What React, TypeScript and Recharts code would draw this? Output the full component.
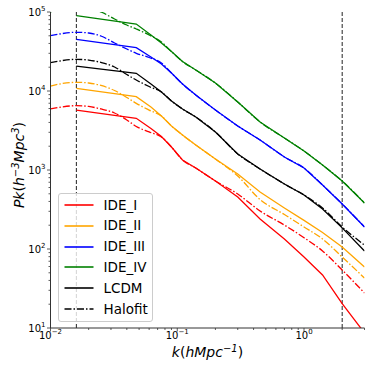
import React from "react";
import { LineChart, Line, XAxis, YAxis, ReferenceLine } from "recharts";

// k grid of the simulation spectra (solid) and of the halofit curves (dash-dot)
const K_SIM = [0.016, 0.0475, 0.062, 0.075, 0.09, 0.11, 0.14, 0.2, 0.3, 0.45, 0.7, 1.0, 1.4, 2.0, 3.0];
const K_HALO = [
  0.01, 0.0125, 0.016, 0.02, 0.025, 0.032, 0.04, 0.0475, 0.06, 0.075, 0.09, 0.11, 0.14, 0.2, 0.3, 0.45,
  0.7, 1.0, 1.4, 2.0, 3.0,
];

const IDE_I = [5740, 4510, 3350, 2655, 1954, 1340, 1059, 726, 455, 240, 134, 79.2, 46.9, 20.4, 8.65];
const IDE_II = [10820, 8470, 6270, 4830, 3606, 2773, 2070, 1377, 889, 527, 330, 230, 162, 106, 59.2];
const IDE_III = [45080, 35320, 26920, 21980, 16900, 12270, 8890, 5740, 3606, 2399, 1462, 1059, 646, 372, 190];
const IDE_IV = [89750, 70470, 51170, 40550, 31550, 23610, 18450, 12620, 7260, 4055, 2540, 1742, 1156, 726, 382];
const LCDM = [20700, 16750, 12270, 9710, 7470, 5920, 4690, 3030, 1595, 1030, 665, 483, 321, 185, 94.4];

const IDE_I_HALO = [
  5920, 6310, 6520, 6370, 5920, 5270, 4300, 3556, 3030, 2618, 1954, 1340, 1059, 726, 497, 303, 201, 139, 94.4,
  54.2, 27.7,
];
const IDE_II_HALO = [
  11560, 12450, 12880, 12620, 11750, 10140, 8280, 6980, 5740, 4830, 3606, 2773, 2070, 1377, 839, 423, 273, 190,
  134, 79.2, 42.9,
];
const IDE_III_HALO = [
  50120, 53460, 55340, 54200, 49700, 40550, 34040, 29990, 26550, 22600, 16900, 12270, 8890, 5740, 3606, 2399,
  1462, 1059, 646, 372, 190,
];
const IDE_IV_HALO = [
  100880, 107540, 111380, 109140, 100000, 81540, 68450, 60930, 51170, 41730, 31550, 23610, 18450, 12620, 7260,
  4055, 2540, 1742, 1156, 726, 382,
];
const LCDM_HALO = [
  22800, 24320, 25180, 24660, 22960, 20140, 16180, 13770, 11400, 9710, 7470, 5920, 4690, 3030, 1595, 1030, 665,
  483, 330, 190, 112,
];

const X_TICKS = [
  0.01, 0.02, 0.03, 0.04, 0.05, 0.06, 0.07, 0.08, 0.09, 0.1, 0.2, 0.3, 0.4, 0.5, 0.6, 0.7, 0.8, 0.9, 1, 2, 3,
];
const Y_TICKS = [
  10, 20, 30, 40, 50, 60, 70, 80, 90, 100, 200, 300, 400, 500, 600, 700, 800, 900, 1000, 2000, 3000, 4000, 5000,
  6000, 7000, 8000, 9000, 10000, 20000, 30000, 40000, 50000, 60000, 70000, 80000, 90000, 100000,
];
const K_CUTS = [0.016, 2.0];

const FONT = "'DejaVu Sans', sans-serif";
const AXIS = "#333";
const DASHDOT = "7 2 1.5 2";

const SERIES = [
  { name: "IDE_I", color: "#ff0000", sim: IDE_I, halo: IDE_I_HALO },
  { name: "IDE_II", color: "#ffa500", sim: IDE_II, halo: IDE_II_HALO },
  { name: "IDE_III", color: "#0000ff", sim: IDE_III, halo: IDE_III_HALO },
  { name: "IDE_IV", color: "#008000", sim: IDE_IV, halo: IDE_IV_HALO },
  { name: "LCDM", color: "#000000", sim: LCDM, halo: LCDM_HALO },
];

const toRows = (ks: number[], ps: number[]) => ks.map((k, i) => ({ k, p: ps[i] }));

const isMajor = (v: number) => Math.abs(Math.log10(v) - Math.round(Math.log10(v))) < 1e-9;
const expText = (v: number) => {
  const e = Math.round(Math.log10(v));
  return e < 0 ? `\u2212${-e}` : `${e}`;
};

function XTick(props: any) {
  const { x, y, payload } = props;
  const major = isMajor(payload.value);
  return (
    <g>
      <line x1={x} x2={x} y1={y} y2={y + (major ? 3.5 : 2)} stroke={AXIS} strokeWidth={0.8} />
      {major && (
        <text x={x} y={y + 10.5} textAnchor="middle" fontSize={10} fontFamily={FONT} fill="#000">
          10
          <tspan dy={-4.5} fontSize={7}>
            {expText(payload.value)}
          </tspan>
        </text>
      )}
    </g>
  );
}

function YTick(props: any) {
  const { x, y, payload } = props;
  const major = isMajor(payload.value);
  return (
    <g>
      <line x1={x} x2={x - (major ? 3.5 : 2)} y1={y} y2={y} stroke={AXIS} strokeWidth={0.8} />
      {major && (
        <text x={x - 5} y={y + 3.6} textAnchor="end" fontSize={10} fontFamily={FONT} fill="#000">
          10
          <tspan dy={-4.5} fontSize={7}>
            {expText(payload.value)}
          </tspan>
        </text>
      )}
    </g>
  );
}

const XLabel = () => (
  <text x={207.5} y={357} textAnchor="middle" fontSize={14} fontFamily={FONT} fontStyle="italic" fill="#000">
    k<tspan fontStyle="normal">(</tspan>hMpc
    <tspan dy={-5.5} fontSize={10}>
      {"\u22121"}
    </tspan>
    <tspan dy={5.5} fontStyle="normal">
      )
    </tspan>
  </text>
);

const YLabel = () => (
  <text
    x={0}
    y={0}
    transform="translate(24,165) rotate(-90)"
    textAnchor="middle"
    fontSize={14}
    fontFamily={FONT}
    fontStyle="italic"
    fill="#000"
  >
    Pk<tspan fontStyle="normal">(</tspan>h
    <tspan dy={-5.5} fontSize={10}>
      {"\u22123"}
    </tspan>
    <tspan dy={5.5}>Mpc</tspan>
    <tspan dy={-5.5} fontSize={10}>
      3
    </tspan>
    <tspan dy={5.5} fontStyle="normal">
      )
    </tspan>
  </text>
);

function LegendBox() {
  const items = [
    ...SERIES.map((s) => ({ name: s.name, color: s.color, dash: undefined as string | undefined })),
    { name: "Halofit", color: "#000000", dash: DASHDOT },
  ];
  return (
    <div
      style={{
        position: "absolute",
        left: 58,
        top: 193,
        width: 95,
        height: 129,
        boxSizing: "border-box",
        border: "1px solid #cccccc",
        borderRadius: 3,
        background: "rgba(255,255,255,0.8)",
        fontFamily: FONT,
        fontSize: 13.5,
        color: "#000",
      }}
    >
      {items.map((it, i) => (
        <div key={it.name} style={{ position: "absolute", left: 0, top: 1 + i * 20.8, height: 20, width: 95 }}>
          <svg width={30} height={20} style={{ position: "absolute", left: 4.5, top: 0 }}>
            <line x1={0.5} x2={29.5} y1={10} y2={10} stroke={it.color} strokeWidth={1.6} strokeDasharray={it.dash} />
          </svg>
          <span style={{ position: "absolute", left: 44.5, top: 1.5, lineHeight: "16px", whiteSpace: "nowrap" }}>
            {it.name}
          </span>
        </div>
      ))}
    </div>
  );
}

export default function App() {
  return (
    <div style={{ position: "fixed", left: 0, top: 0, width: 374, height: 374, background: "#fff" }}>
      <LineChart width={374} height={374} margin={{ top: 12, right: 9.5, bottom: 0, left: 0 }}>
        <XAxis
          xAxisId="b"
          dataKey="k"
          type="number"
          scale="log"
          domain={[0.01, 3]}
          allowDataOverflow
          ticks={X_TICKS}
          interval={0}
          tick={<XTick />}
          tickLine={false}
          tickSize={0}
          tickMargin={0}
          height={46}
          stroke={AXIS}
          label={{ content: XLabel }}
        />
        <XAxis
          xAxisId="t"
          orientation="top"
          dataKey="k"
          type="number"
          scale="log"
          domain={[0.01, 3]}
          allowDataOverflow
          tick={false}
          tickLine={false}
          height={0}
          stroke={AXIS}
        />
        <YAxis
          yAxisId="l"
          type="number"
          scale="log"
          domain={[10, 100000]}
          allowDataOverflow
          ticks={Y_TICKS}
          interval={0}
          tick={<YTick />}
          tickLine={false}
          tickSize={0}
          tickMargin={0}
          width={50.5}
          stroke={AXIS}
          label={{ content: YLabel }}
        />
        <YAxis
          yAxisId="r"
          orientation="right"
          type="number"
          scale="log"
          domain={[10, 100000]}
          allowDataOverflow
          tick={false}
          tickLine={false}
          width={0}
          stroke={AXIS}
        />
        {K_CUTS.map((k) => (
          <ReferenceLine
            key={k}
            x={k}
            xAxisId="b"
            yAxisId="l"
            stroke="#222"
            strokeWidth={1}
            strokeDasharray="4 2"
          />
        ))}
        {SERIES.map((s) => (
          <Line
            key={s.name}
            xAxisId="b"
            yAxisId="l"
            data={toRows(K_SIM, s.sim)}
            dataKey="p"
            type="linear"
            stroke={s.color}
            strokeWidth={1.3}
            dot={false}
            activeDot={false}
            isAnimationActive={false}
          />
        ))}
        {SERIES.map((s) => (
          <Line
            key={s.name + "_halofit"}
            xAxisId="b"
            yAxisId="l"
            data={toRows(K_HALO, s.halo)}
            dataKey="p"
            type="monotone"
            stroke={s.color}
            strokeWidth={1.3}
            strokeDasharray={DASHDOT}
            dot={false}
            activeDot={false}
            isAnimationActive={false}
          />
        ))}
      </LineChart>
      <LegendBox />
    </div>
  );
}
